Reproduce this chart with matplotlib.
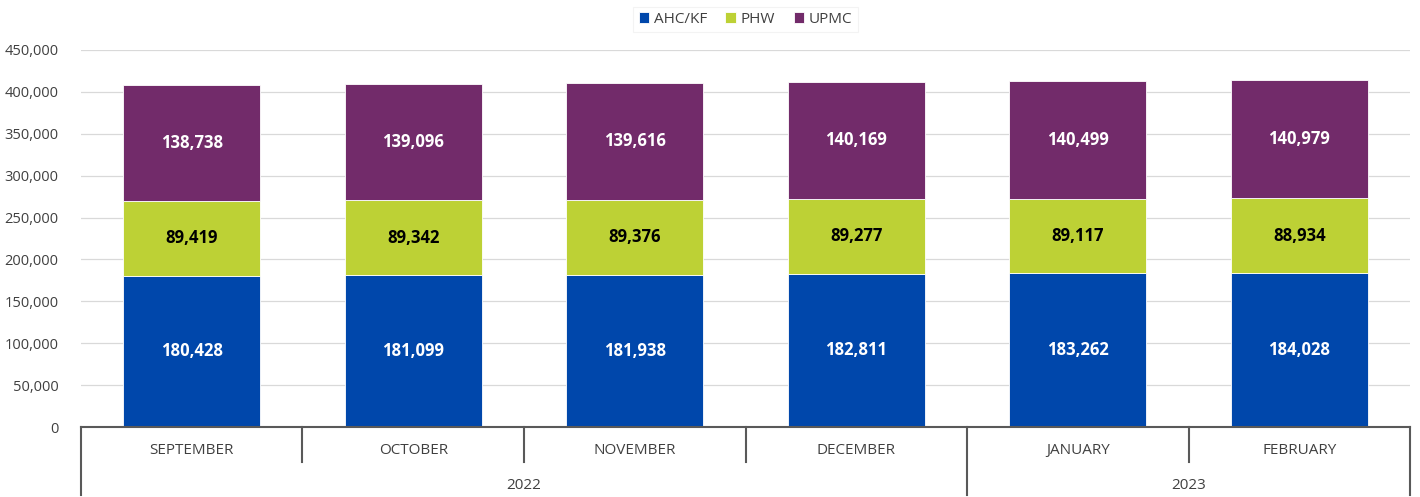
import numpy as np
import matplotlib.pyplot as plt

# Data
months = ['SEPTEMBER', 'OCTOBER', 'NOVEMBER', 'DECEMBER', 'JANUARY', 'FEBRUARY']
years = ['2022', '2022', '2022', '2022', '2023', '2023']
ahc_kf = [180428, 181099, 181938, 182811, 183262, 184028]
phw = [89419, 89342, 89376, 89277, 89117, 88934]
upmc = [138738, 139096, 139616, 140169, 140499, 140979]

colors = {'AHC/KF': '#0047AB', 'PHW': '#BDD135', 'UPMC': '#722B6A'}
plt.rcParams['font.family'] = ['Open Sans', 'DejaVu Sans']

fig = plt.figure(figsize=(14.2, 4.97), dpi=100)
ax = fig.add_axes([0.057, 0.1408, 0.936, 0.7586])

x = np.arange(len(months))
w = 0.62
ahc_kf_a = np.array(ahc_kf)
phw_a = np.array(phw)
upmc_a = np.array(upmc)

b1 = ax.bar(x, ahc_kf_a, w, color=colors['AHC/KF'], edgecolor='white', linewidth=0.6, label='AHC/KF', zorder=3)
b2 = ax.bar(x, phw_a, w, bottom=ahc_kf_a, color=colors['PHW'], edgecolor='white', linewidth=0.6, label='PHW', zorder=3)
b3 = ax.bar(x, upmc_a, w, bottom=ahc_kf_a + phw_a, color=colors['UPMC'], edgecolor='white', linewidth=0.6, label='UPMC', zorder=3)

# value labels
for vals, bottoms, tc in [(ahc_kf_a, np.zeros(len(x)), 'white'),
                          (phw_a, ahc_kf_a, 'black'),
                          (upmc_a, ahc_kf_a + phw_a, 'white')]:
    for i, v in enumerate(vals):
        ax.text(x[i], bottoms[i] + v / 2, f'{v:,}', ha='center', va='center',
                color=tc, fontsize=12, fontweight='bold', zorder=4)

ax.set_xlim(-0.5, len(months) - 0.5)
ax.set_ylim(0, 450000)
ax.set_yticks(np.arange(0, 450001, 50000))
ax.set_yticklabels([f'{t:,}' for t in range(0, 450001, 50000)], fontsize=10.5, color='#404040')
ax.tick_params(axis='y', length=0, pad=16)
ax.set_xticks([])
ax.grid(axis='y', color='#D9D9D9', linewidth=0.9, zorder=0)
for s in ['left', 'right', 'top']:
    ax.spines[s].set_visible(False)
ax.spines['bottom'].set_color('#595959')
ax.spines['bottom'].set_linewidth(1.5)
ax.spines['bottom'].set_zorder(5)

# multi-level category axis
tr = ax.get_xaxis_transform()
month_bot = -0.093
year_bot = -0.18
lc = '#595959'
for i, m in enumerate(months):
    ax.text(x[i], -0.061, m, transform=tr, ha='center', va='center', fontsize=11, color='#404040')
for i in range(1, len(months)):
    bottom = year_bot if years[i] != years[i - 1] else month_bot
    ax.plot([i - 0.5, i - 0.5], [0, bottom], transform=tr, color=lc, lw=1.5, clip_on=False)
ax.plot([-0.5, -0.5], [0, year_bot], transform=tr, color=lc, lw=1.5, clip_on=False)
ax.plot([len(months) - 0.5] * 2, [0, year_bot], transform=tr, color=lc, lw=1.5, clip_on=False)
for yr in sorted(set(years)):
    idx = [i for i, y in enumerate(years) if y == yr]
    ax.text(np.mean(idx), -0.154, yr, transform=tr, ha='center', va='center', fontsize=11, color='#404040')

leg = ax.legend(loc='upper center', bbox_to_anchor=(0.5, 1.135), ncol=3, frameon=True,
                fontsize=11, handlelength=0.7, handleheight=0.7, handletextpad=0.3,
                columnspacing=1.2, labelcolor='#404040', fancybox=False,
                borderpad=0.35)
leg.get_frame().set_edgecolor('#F0F0F0')
leg.get_frame().set_linewidth(0.8)

fig.savefig('out.png', dpi=100)
